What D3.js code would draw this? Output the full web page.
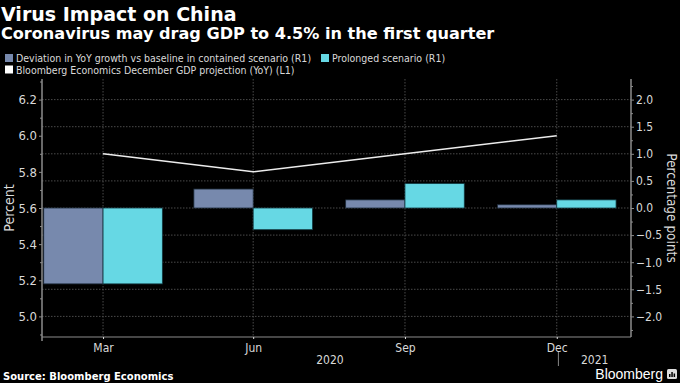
<!DOCTYPE html>
<html><head><meta charset="utf-8">
<script src="https://cdn.jsdelivr.net/npm/d3@7"></script>
<style>
html,body{margin:0;padding:0;background:#000;}
svg{display:block;}
</style></head>
<body>
<svg id="chart" width="680" height="383"></svg>
<script>
// ---- data ----
const quarters = ["2020-03-31","2020-06-30","2020-09-30","2020-12-31"];
const tickLabels = ["Mar","Jun","Sep","Dec"];
const contained = [-1.4, 0.35, 0.15, 0.06];
const prolonged = [-1.4, -0.4, 0.45, 0.15];
const gdpProjection = [5.9, 5.8, 5.9, 6.0];
const leftTicks = [5.0, 5.2, 5.4, 5.6, 5.8, 6.0, 6.2];
const rightTicks = [-2.0, -1.5, -1.0, -0.5, 0.0, 0.5, 1.0, 1.5, 2.0];
const years = ["2020", "2021"];
const legendItems = [
  "Deviation in YoY growth vs baseline in contained scenario (R1)",
  "Prolonged scenario (R1)",
  "Bloomberg Economics December GDP projection (YoY) (L1)"
];

const parse = d3.utcParse("%Y-%m-%d");
const dates = quarters.map(parse);

const svg = d3.select("#chart");
const W = 680, H = 383;
const m = {left: 42, right: 631, top: 79, bottom: 337};
const FONT = "'DejaVu Sans Condensed', 'DejaVu Sans', sans-serif";
const COL_A = "#7789ad", COL_B = "#66d8e4", TXT = "#d9d9d9", AX = "#8c8c8c", GRID = "#4a4a4a";

svg.append("rect").attr("width", W).attr("height", H).attr("fill", "#000");

// scales
const x = d3.scaleUtc()
  .domain([d3.utcDay.offset(dates[0], -37), d3.utcDay.offset(dates[3], 45)])
  .range([m.left, m.right]);
const yL = d3.scaleLinear().domain([5.6 - 0.714, 5.6 + 0.714]).range([m.bottom, m.top]);
const yR = d3.scaleLinear().domain([-2.38, 2.38]).range([m.bottom, m.top]);

// titles
svg.append("text").attr("x", 1).attr("y", 21).text("Virus Impact on China")
  .attr("fill", "#fff").attr("font-family", "'DejaVu Sans', sans-serif").attr("font-weight", "bold").attr("font-size", 19);
svg.append("text").attr("x", 1).attr("y", 39).text("Coronavirus may drag GDP to 4.5% in the first quarter")
  .attr("fill", "#fff").attr("font-family", "'DejaVu Sans', sans-serif").attr("font-weight", "bold").attr("font-size", 16.1);

// legend
const legendColors = [COL_A, COL_B, "#ffffff"];
const legendPos = [[5, 58], [321, 58], [5, 69.5]];
legendItems.forEach((t, i) => {
  const g = svg.append("g").attr("transform", `translate(${legendPos[i][0]},${legendPos[i][1]})`);
  g.append("rect").attr("x", 0).attr("y", -4).attr("width", 8).attr("height", 8).attr("fill", legendColors[i]);
  g.append("text").attr("x", 11).attr("y", 4).text(t).attr("fill", TXT)
    .attr("font-family", FONT).attr("font-size", 10.5);
});

// grid
const grid = svg.append("g");
grid.selectAll("line.h").data(rightTicks).join("line")
  .attr("x1", m.left).attr("x2", m.right).attr("y1", d => yR(d)).attr("y2", d => yR(d))
  .attr("stroke", GRID).attr("stroke-dasharray", "1.5,1.5");
grid.selectAll("line.v").data(dates).join("line")
  .attr("x1", d => x(d)).attr("x2", d => x(d)).attr("y1", m.top).attr("y2", m.bottom)
  .attr("stroke", GRID).attr("stroke-dasharray", "1.5,1.5");

// bars
const step = x(dates[1]) - x(dates[0]);
const bw = step * 0.395;
const bars = svg.append("g");
bars.selectAll("rect.a").data(contained).join("rect")
  .attr("x", (d, i) => x(dates[i]) - bw).attr("width", bw)
  .attr("y", d => yR(Math.max(0, d))).attr("height", d => Math.abs(yR(d) - yR(0)))
  .attr("fill", COL_A).attr("stroke", "#1d2b3a").attr("stroke-width", 0.8);
bars.selectAll("rect.b").data(prolonged).join("rect")
  .attr("x", (d, i) => x(dates[i])).attr("width", bw)
  .attr("y", d => yR(Math.max(0, d))).attr("height", d => Math.abs(yR(d) - yR(0)))
  .attr("fill", COL_B).attr("stroke", "#123a42").attr("stroke-width", 0.8);

// line
svg.append("path").datum(gdpProjection)
  .attr("d", d3.line().x((d, i) => x(dates[i])).y(d => yL(d)))
  .attr("fill", "none").attr("stroke", "#ececec").attr("stroke-width", 1.5);

// left axis
const axL = svg.append("g").attr("transform", `translate(${m.left},0)`);
axL.call(d3.axisLeft(yL).tickValues(d3.range(4.9, 6.31, 0.1)).tickSize(2).tickFormat(""));
axL.call(g => g.selectAll(".tick").filter(d => leftTicks.some(v => Math.abs(v - d) < 1e-6)).remove());
const axL2 = svg.append("g").attr("transform", `translate(${m.left},0)`);
axL2.call(d3.axisLeft(yL).tickValues(leftTicks).tickSize(3).tickPadding(2).tickFormat(d3.format(".1f")));
[axL, axL2].forEach(a => {
  a.select(".domain").attr("stroke", AX).attr("d", `M0,${m.top}V${m.bottom + 4}`);
  a.selectAll(".tick line").attr("stroke", AX);
  a.selectAll("text").attr("fill", TXT).attr("font-family", FONT).attr("font-size", 13);
});

// right axis
const axR = svg.append("g").attr("transform", `translate(${m.right},0)`);
axR.call(d3.axisRight(yR).tickValues(d3.range(-2.25, 2.3, 0.5)).tickSize(2).tickFormat(""));
const axR2 = svg.append("g").attr("transform", `translate(${m.right},0)`);
axR2.call(d3.axisRight(yR).tickValues(rightTicks).tickSize(3).tickPadding(2).tickFormat(d3.format(".1f")));
[axR, axR2].forEach(a => {
  a.select(".domain").attr("stroke", AX).attr("d", `M0,${m.top}V${m.bottom}`);
  a.selectAll(".tick line").attr("stroke", AX);
  a.selectAll("text").attr("fill", TXT).attr("font-family", FONT).attr("font-size", 12);
});

// bottom axis
const axB = svg.append("g").attr("transform", `translate(0,${m.bottom})`);
axB.call(d3.axisBottom(x).tickValues(dates).tickSize(2).tickPadding(4).tickFormat((d, i) => tickLabels[i]));
axB.select(".domain").attr("stroke", AX).attr("d", `M${m.left},0H${m.right}`);
axB.selectAll(".tick line").attr("stroke", "#ddd");
axB.selectAll("text").attr("fill", TXT).attr("font-family", FONT).attr("font-size", 12);

// year labels
const yearStart = parse("2021-01-01");
svg.append("line").attr("x1", x(yearStart)).attr("x2", x(yearStart)).attr("y1", 352).attr("y2", 366)
  .attr("stroke", "#888");
const yearPos = [(x(dates[0]) + x(dates[3])) / 2, (x(yearStart) + m.right) / 2];
years.forEach((t, i) => {
  svg.append("text").attr("x", yearPos[i]).attr("y", 364).attr("text-anchor", "middle").text(t)
    .attr("fill", TXT).attr("font-family", FONT).attr("font-size", 12);
});

// axis titles
svg.append("text").attr("transform", `translate(14,${(m.top + m.bottom) / 2}) rotate(-90)`)
  .attr("text-anchor", "middle").text("Percent")
  .attr("fill", TXT).attr("font-family", FONT).attr("font-size", 14);
svg.append("text").attr("transform", `translate(667,${(m.top + m.bottom) / 2}) rotate(90)`)
  .attr("text-anchor", "middle").text("Percentage points")
  .attr("fill", TXT).attr("font-family", FONT).attr("font-size", 13.5);

// footer
svg.append("text").attr("x", 3).attr("y", 380).text("Source: Bloomberg Economics")
  .attr("fill", "#fff").attr("font-family", "'DejaVu Sans', sans-serif").attr("font-weight", "bold").attr("font-size", 10);
svg.append("text").attr("x", 663).attr("y", 379).attr("text-anchor", "end").text("Bloomberg")
  .attr("fill", "#fff").attr("font-family", "'Liberation Sans', sans-serif").attr("font-size", 14);
const logo = svg.append("g").attr("transform", "translate(667,369)");
logo.append("rect").attr("width", 10).attr("height", 10).attr("rx", 1.5).attr("fill", "#ddd");
[[2, 5, 1.5, 3], [4.3, 3, 1.5, 5], [6.6, 4.5, 1.5, 3.5]].forEach(b =>
  logo.append("rect").attr("x", b[0]).attr("y", b[1]).attr("width", b[2]).attr("height", b[3]).attr("fill", "#000"));
</script>
</body></html>
